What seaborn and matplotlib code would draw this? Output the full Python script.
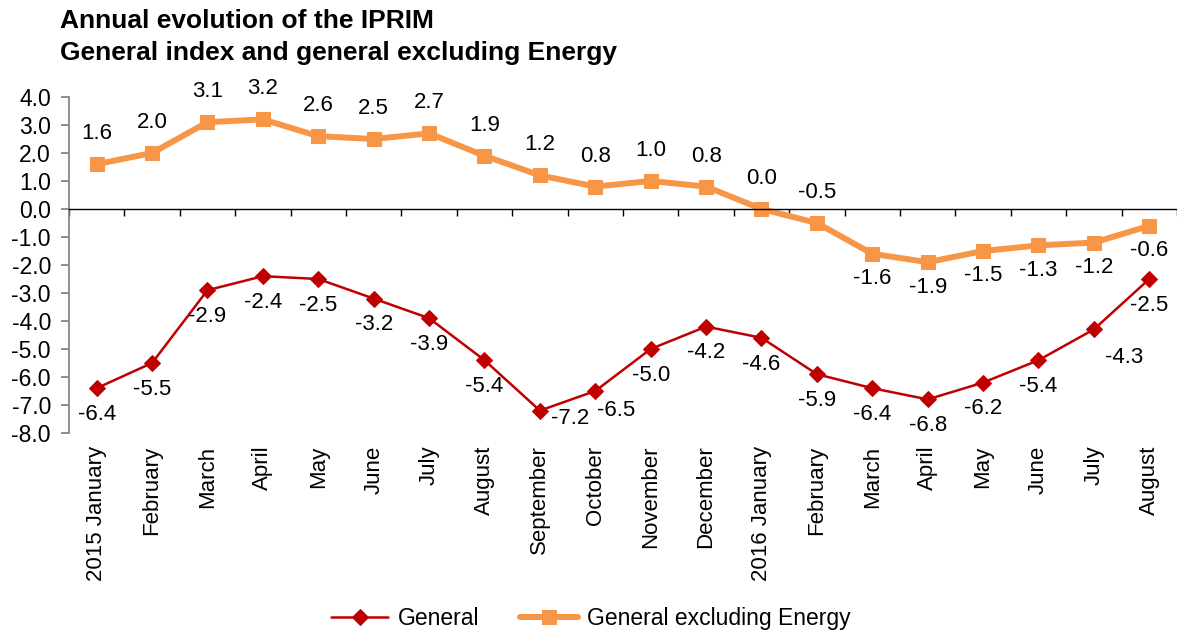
import numpy as np
import pandas as pd
import matplotlib
matplotlib.use('Agg')
import matplotlib.pyplot as plt
import seaborn as sns

months = ['2015 January', 'February', 'March', 'April', 'May', 'June', 'July',
          'August', 'September', 'October', 'November', 'December',
          '2016 January', 'February', 'March', 'April', 'May', 'June', 'July',
          'August']
general = [-6.4, -5.5, -2.9, -2.4, -2.5, -3.2, -3.9, -5.4, -7.2, -6.5, -5.0,
           -4.2, -4.6, -5.9, -6.4, -6.8, -6.2, -5.4, -4.3, -2.5]
excl_energy = [1.6, 2.0, 3.1, 3.2, 2.6, 2.5, 2.7, 1.9, 1.2, 0.8, 1.0, 0.8,
               0.0, -0.5, -1.6, -1.9, -1.5, -1.3, -1.2, -0.6]

RED = '#C00000'
ORANGE = '#F79646'

sns.set_style('white')
plt.rcParams['font.family'] = ['Liberation Sans', 'DejaVu Sans']
plt.rcParams['text.color'] = 'black'
plt.rcParams['xtick.labelcolor'] = 'black'
plt.rcParams['ytick.labelcolor'] = 'black'

df = pd.DataFrame({'pos': np.arange(len(months)),
                   'General': general,
                   'General excluding Energy': excl_energy})

fig = plt.figure(figsize=(11.77, 6.31), dpi=100)
ax = fig.add_axes([0.0586, 0.3138, 0.9414, 0.5325])

sns.lineplot(data=df, x='pos', y='General', ax=ax, color=RED, lw=1.8,
             marker='D', markersize=8.5, markeredgecolor=RED, label='General')
sns.lineplot(data=df, x='pos', y='General excluding Energy', ax=ax,
             color=ORANGE, lw=4.3, marker='s', markersize=9.5,
             markeredgecolor=ORANGE, label='General excluding Energy')

# data labels (offsets in points)
lbl_kw = dict(textcoords='offset points', ha='center', va='center', fontsize=16)
for i, v in enumerate(excl_energy):
    dy = 22 if i <= 13 else -18
    ax.annotate(f'{v:.1f}', (i, v), xytext=(0, dy), **lbl_kw)
red_nudge = {8: (22, -6), 9: (15, -14), 18: (22, -20)}
for i, v in enumerate(general):
    dx, dy = red_nudge.get(i, (0, -19))
    ax.annotate(f'{v:.1f}', (i, v), xytext=(dx, dy), **lbl_kw)

ax.set_xlim(-0.5, len(months) - 0.5)
ax.set_ylim(-8, 4)
ax.set_yticks(np.arange(-8, 4.1, 1))
ax.set_yticklabels([f'{t:.1f}' for t in np.arange(-8, 4.1, 1)])
ax.set_xlabel('')
ax.set_ylabel('')

# zero line with boundary ticks
ax.spines['bottom'].set_position(('data', 0))
ax.spines['bottom'].set_color('black')
ax.spines['bottom'].set_linewidth(1.0)
ax.set_xticks(np.arange(-0.5, len(months), 1))
ax.tick_params(axis='x', bottom=True, length=5, width=1, color='black',
               labelbottom=False)
for s in ['top', 'right']:
    ax.spines[s].set_visible(False)
ax.spines['left'].set_color('#868686')
ax.spines['left'].set_linewidth(1.3)
ax.tick_params(axis='y', left=True, length=6, width=1.3, color='#868686',
               labelsize=16.5, pad=7)

sec = ax.secondary_xaxis('bottom')
sec.set_xticks(np.arange(len(months)))
sec.set_xticklabels(months, rotation=90, fontsize=16)
sec.tick_params(length=0, pad=9)
sec.spines['bottom'].set_visible(False)

ax.get_legend().remove()
h, l = ax.get_legend_handles_labels()
fig.legend(h, l, loc='center', bbox_to_anchor=(0.502, 0.02), ncol=2,
           frameon=False, fontsize=16.5, handlelength=2.5, columnspacing=1.8,
           handletextpad=0.4)

fig.text(0.051, 0.985, 'Annual evolution of the IPRIM\nGeneral index and general excluding Energy',
         ha='left', va='top', fontsize=19, fontweight='bold', linespacing=1.4)

fig.savefig('out.png', dpi=100)
